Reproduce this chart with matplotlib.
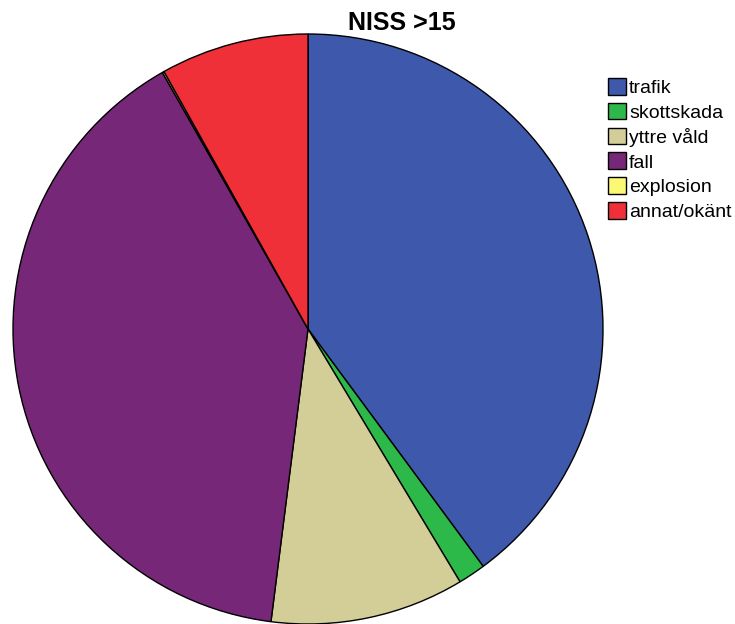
import matplotlib.pyplot as plt

plt.rcParams['font.family'] = ['Liberation Sans', 'DejaVu Sans']

categories = ['trafik', 'skottskada', 'yttre våld', 'fall', 'explosion', 'annat/okänt']
shares = [39.8, 1.5, 10.6, 39.7, 0.1, 8.1]
colors = ['#3E58AC', '#2DB84A', '#D3CE97', '#772777', '#FBF873', '#EF3038']

fig = plt.figure(figsize=(7.35, 6.24), dpi=100)
ax = fig.add_axes([0, 0, 1, 1])
ax.set_xlim(0, 735)
ax.set_ylim(0, 624)
ax.set_aspect('equal')
ax.axis('off')

wedges, _ = ax.pie(shares, colors=colors, startangle=90, counterclock=False,
                   center=(308, 295), radius=295, frame=True,
                   wedgeprops={'edgecolor': 'black', 'linewidth': 1.0})
ax.set_xlim(0, 735)
ax.set_ylim(0, 624)
ax.axis('off')

ax.text(402, 624 - 23, 'NISS >15', ha='center', va='center',
        fontsize=18, fontweight='bold')

leg = ax.legend(wedges, categories, loc='upper left',
                bbox_to_anchor=(600 / 735, 1 - 70 / 624),
                frameon=False, fontsize=14, handlelength=0.95, handleheight=0.95,
                handletextpad=0.15, labelspacing=0.3, borderaxespad=0)

fig.savefig('out.png', dpi=100)
